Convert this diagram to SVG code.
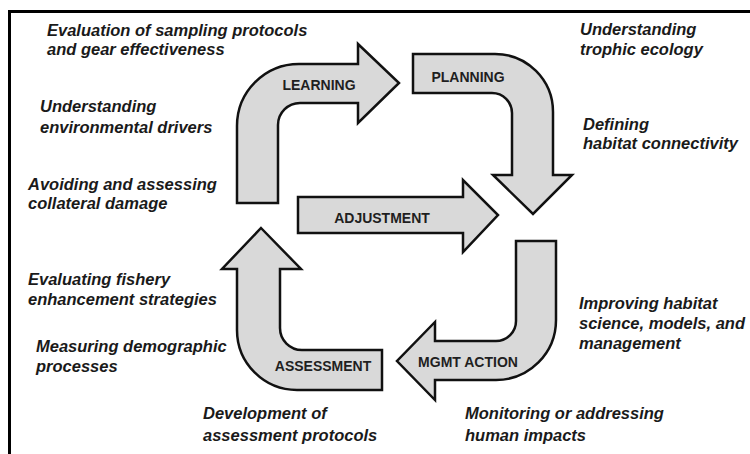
<svg xmlns="http://www.w3.org/2000/svg" width="750" height="454" viewBox="0 0 750 454">
<style>
.arrow{fill:#d9d9d9;stroke:#111;stroke-width:2.5;stroke-linejoin:miter}
.lbl{font-family:"Liberation Sans",Arial,sans-serif;font-weight:bold;font-size:14px;fill:#1f1f1f;text-anchor:middle}
.note{font-family:"Liberation Sans",Arial,sans-serif;font-weight:bold;font-style:italic;font-size:16.5px;fill:#1a1a1a}
</style>
<rect width="750" height="454" fill="#fff"/>
<path d="M9.5,460 V11.5 H760" fill="none" stroke="#000" stroke-width="3"/>
<g id="connectors"></g>
<g id="learning">
<path class="arrow" d="M237,203 V126 A62,62 0 0 1 299,64 H358 V44 L399,83 L358,123 V103 H300 A22,22 0 0 0 278,125 V203 Z"/>
<text class="lbl" x="319" y="90">LEARNING</text>
</g>
<g id="planning">
<path class="arrow" d="M413,54 H495 A58,58 0 0 1 553,112 V175 H572 L533,214 L493,175 H512 V113 A20,20 0 0 0 492,93 H413 Z"/>
<text class="lbl" x="468" y="82">PLANNING</text>
</g>
<g id="adjustment">
<path class="arrow" d="M298,197 H463 V180 L498,215 L463,252 V233 H298 Z"/>
<text class="lbl" x="382" y="223">ADJUSTMENT</text>
</g>
<g id="mgmt-action">
<path class="arrow" d="M516,241 H556 V320 A60,60 0 0 1 496,380 H435 V400 L397,361 L435,322 V341 H496 A20,20 0 0 0 516,321 Z"/>
<text class="lbl" x="468" y="367">MGMT ACTION</text>
</g>
<g id="assessment">
<path class="arrow" d="M261,228 L301,269 H280 V328 A22,22 0 0 0 302,350 H382 V390 H297 A60,60 0 0 1 237,330 V269 H222 Z"/>
<text class="lbl" x="323" y="371">ASSESSMENT</text>
</g>
<g id="notes-left">
<text class="note" x="47" y="36">Evaluation of sampling protocols</text>
<text class="note" x="47" y="55">and gear effectiveness</text>
<text class="note" x="40" y="112">Understanding</text>
<text class="note" x="40" y="133">environmental drivers</text>
<text class="note" x="28" y="190">Avoiding and assessing</text>
<text class="note" x="28" y="209">collateral damage</text>
<text class="note" x="28" y="285">Evaluating fishery</text>
<text class="note" x="28" y="305">enhancement strategies</text>
<text class="note" x="36" y="352">Measuring demographic</text>
<text class="note" x="36" y="372">processes</text>
</g>
<g id="notes-bottom">
<text class="note" x="203" y="419">Development of</text>
<text class="note" x="203" y="441">assessment protocols</text>
<text class="note" x="465" y="419">Monitoring or addressing</text>
<text class="note" x="465" y="441">human impacts</text>
</g>
<g id="notes-right">
<text class="note" x="580" y="35">Understanding</text>
<text class="note" x="580" y="55">trophic ecology</text>
<text class="note" x="583" y="130">Defining</text>
<text class="note" x="583" y="149">habitat connectivity</text>
<text class="note" x="579" y="309">Improving habitat</text>
<text class="note" x="579" y="329">science, models, and</text>
<text class="note" x="579" y="349">management</text>
</g>
</svg>
